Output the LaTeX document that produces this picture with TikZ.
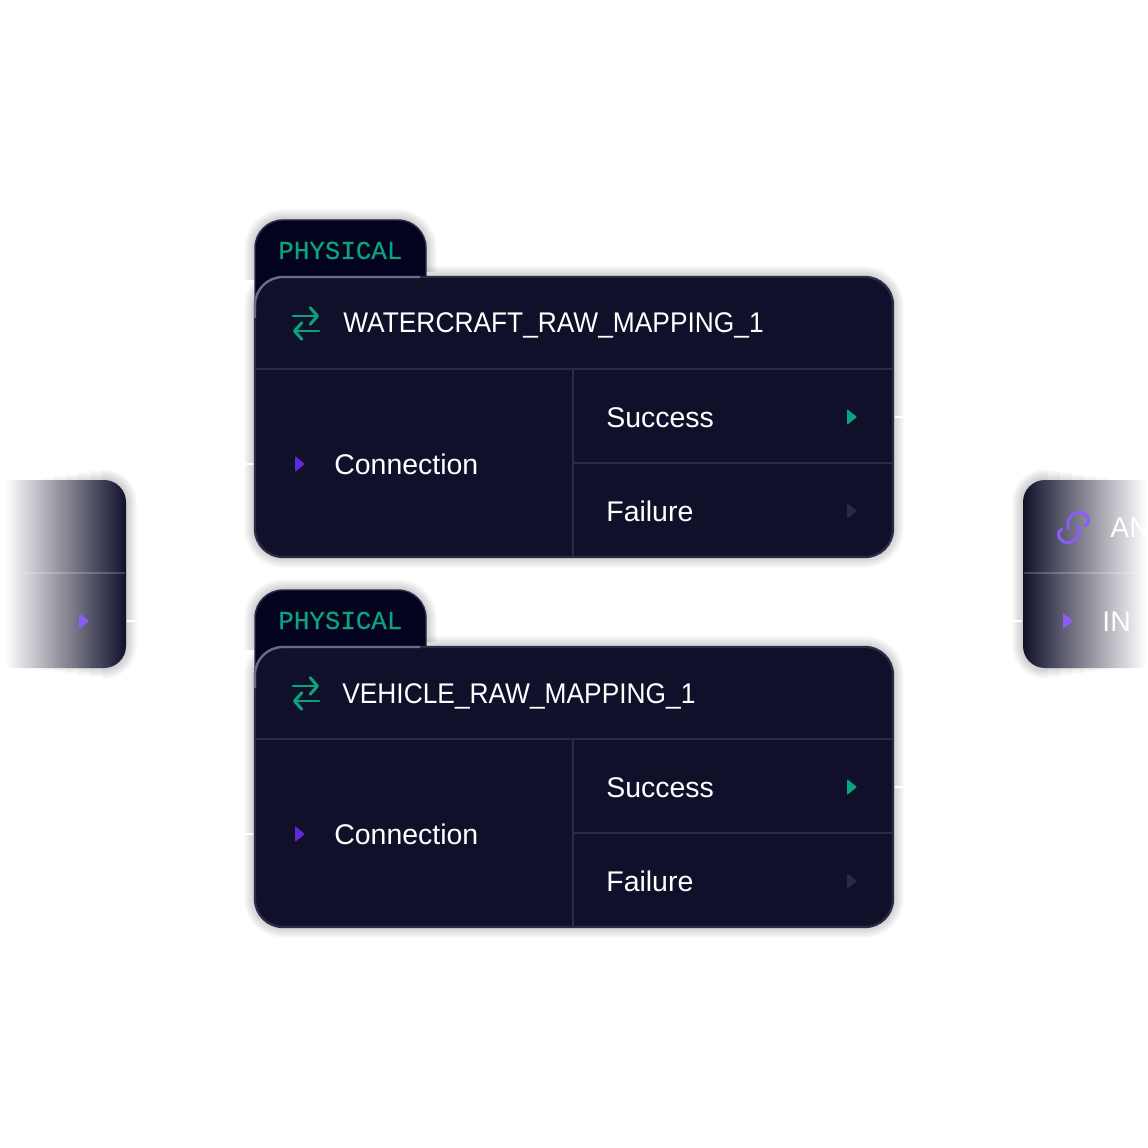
\documentclass[tikz,border=0pt]{standalone}
\usepackage{fontspec}
\setmainfont{Liberation Sans}
\setmonofont[FakeBold=0.4]{Liberation Mono}
\newfontfamily\titlefont[FakeStretch=0.925]{Liberation Sans}
\usetikzlibrary{arrows.meta}
\definecolor{cardfill}{HTML}{10102B}
\definecolor{tabfill}{HTML}{03021F}
\definecolor{cardline}{HTML}{2B2B47}
\definecolor{cardedge}{HTML}{6C6C80}
\definecolor{physgreen}{HTML}{0BA37D}
\definecolor{connpurple}{HTML}{6128D8}
\definecolor{sidepurple}{HTML}{8B5CF6}
\definecolor{failgrey}{HTML}{2A2A45}
\tikzset{
  cardtext/.style={text=white,font=\fontsize{16.2}{18}\selectfont,anchor=base west,inner sep=0pt},
  titletext/.style={cardtext,font=\titlefont\fontsize{16.2}{18}\selectfont},
  tabtext/.style={text=physgreen,font=\ttfamily\fontsize{14.7}{16}\selectfont,anchor=base west,inner sep=0pt},
  divider/.style={draw=cardline,line width=0.8pt},
  softshadow/.style={draw=black,opacity=0.03},
  stub/.style={draw=white,line width=0.8pt},
  tri/.style={rounded corners=0.5pt},
  biground/.style={rounded corners=15.9pt},
  sideround/.style={rounded corners=12.5pt},
  swapicon/.style={draw=physgreen,line width=1.7pt,-{Straight Barb[length=4.2pt,width=9.5pt,round]},line cap=round},
  linkicon/.style={draw=sidepurple,line width=1.7pt,line cap=round},
}
\begin{document}
\begin{tikzpicture}[x=0.02cm,y=-0.02cm]
\useasboundingbox (0,0) rectangle (1148,1148);
\fill[white] (0,0) rectangle (1148,1148);
% side card, left
\foreach \w in {2,4,...,12} {
  \draw[softshadow,line width=\w pt] ({30+6*\w},480) [sideround] -- (126,480) -- (126,668) [sharp corners] -- ({30+6*\w},668);
}
\shade[left color=white,right color=cardfill] (5,480) [sideround] -- (126,480) -- (126,668) [sharp corners] -- (5,668) -- cycle;
\draw[white,opacity=0.2,line width=0.8pt] (20,573) -- (125,573);
\fill[sidepurple,tri] (79,613) -- (89,621) -- (79,629) -- cycle;
\coordinate (leftstub) at (127,621);
\coordinate (leftend) at (136,621);
\draw[stub] (leftstub) -- (leftend);
% side card, right
\foreach \w in {2,4,...,12} {
  \draw[softshadow,line width=\w pt] ({1120-6*\w},480) [sideround] -- (1023,480) -- (1023,668) [sharp corners] -- ({1120-6*\w},668);
}
\shade[left color=cardfill,right color=white] (1146,480) [sideround] -- (1023,480) -- (1023,668) [sharp corners] -- (1146,668) -- cycle;
\draw[white,opacity=0.2,line width=0.8pt] (1024,573) -- (1135,573);
\draw[linkicon] plot[smooth] coordinates {(1068.5,529) (1068,522) (1071,516) (1076,513) (1083,513) (1088,518) (1088,523) (1085,526)};
\draw[linkicon] plot[smooth] coordinates {(1078.5,526) (1079,533) (1076,539) (1071,542) (1064,542) (1059,537) (1059,532) (1062,529)};
\fill[sidepurple,tri] (1063,613) -- (1073,621) -- (1063,629) -- cycle;
\node[cardtext] (anylabel) at (1110,537) {AN};
\node[cardtext] (inlabel) at (1102,631) {IN};
\coordinate (rightstub) at (1022,621);
\coordinate (rightend) at (1010,621);
\draw[stub] (rightstub) -- (rightend);
% the two mapping cards
\foreach \dy/\mapname/\titlex in {0/WATERCRAFT\_RAW\_MAPPING\_1/343,370/VEHICLE\_RAW\_MAPPING\_1/342} {
\begin{scope}[shift={(0,\dy)}]
\foreach \w in {2,4,...,12} {
  \draw[softshadow,line width=\w pt,biground] (255,277) rectangle (893,557);
  \draw[softshadow,line width=\w pt] (255,280) [biground] -- (255,220) -- (426,220) [sharp corners] -- (426,272);
}
\fill[tabfill,draw=cardline,line width=0.8pt] (255,300) [biground] -- (255,220) -- (426,220) [sharp corners] -- (426,300) -- cycle;
\fill[cardfill,biground] (255,277) rectangle (893,557);
\draw[cardline,line width=1.3pt,biground] (255,277) rectangle (893,557);
\draw[cardedge,line width=1.3pt] (255,318) [biground] -- (255,277) [sharp corners] -- (420,277);
\draw[divider] (255,369) -- (893,369);
\draw[divider] (573,369) -- (573,556);
\draw[divider] (573,463) -- (893,463);
\node[tabtext] (physical\dy) at (278,259) {PHYSICAL};
\coordinate (swapa\dy) at (293,316);
\coordinate (swapb\dy) at (319,316);
\coordinate (swapc\dy) at (319,331);
\coordinate (swapd\dy) at (293,331);
\draw[swapicon] (swapa\dy) -- (swapb\dy);
\draw[swapicon] (swapc\dy) -- (swapd\dy);
\node[titletext] (title\dy) at (\titlex,333) {\mapname};
\fill[connpurple,tri] (295,456) -- (305,464) -- (295,472) -- cycle;
\node[cardtext] (connection\dy) at (334,474) {Connection};
\node[cardtext] (success\dy) at (606,427) {Success};
\fill[physgreen,tri] (847,409) -- (857,417) -- (847,425) -- cycle;
\node[cardtext] (failure\dy) at (606,521) {Failure};
\fill[failgrey,tri] (847,503) -- (857,511) -- (847,519) -- cycle;
\coordinate (outstub\dy) at (895,417);
\coordinate (outend\dy) at (905,417);
\draw[stub] (outstub\dy) -- (outend\dy);
\coordinate (instub\dy) at (253,464);
\coordinate (inend\dy) at (245,464);
\draw[stub] (instub\dy) -- (inend\dy);
\end{scope}
}
\end{tikzpicture}
\end{document}
